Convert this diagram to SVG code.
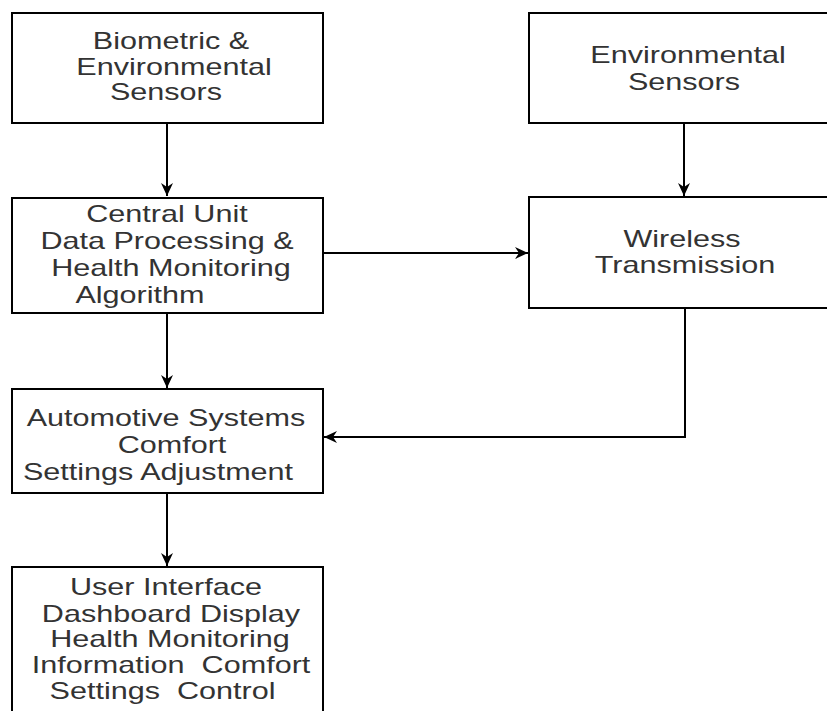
<svg xmlns="http://www.w3.org/2000/svg" width="827" height="711" viewBox="0 0 827 711">
<style>
.box{fill:#fff;stroke:#000;stroke-width:2}
.t{font-family:"Liberation Sans",Arial,sans-serif;font-size:23px;fill:#333;text-anchor:middle}
.c{fill:none;stroke:#000;stroke-width:2}
</style>
<defs>
<marker id="ah" markerUnits="userSpaceOnUse" markerWidth="14" markerHeight="14" viewBox="0 0 14 14" refX="13" refY="7" orient="auto">
<path d="M0,1 L13,7 L0,13 L4,7 Z" fill="#000"/>
</marker>
</defs>
<rect width="827" height="711" fill="#fff"/>
<g id="connectors">
<path class="c" d="M167,123 L167,196" marker-end="url(#ah)"/>
<path class="c" d="M684,123 L684,196" marker-end="url(#ah)"/>
<path class="c" d="M323,253 L528,253" marker-end="url(#ah)"/>
<path class="c" d="M167,313 L167,388" marker-end="url(#ah)"/>
<path class="c" d="M685,308 L685,437 L324,437" marker-end="url(#ah)"/>
<path class="c" d="M167,493 L167,566" marker-end="url(#ah)"/>
</g>
<g id="biometric">
<rect class="box" x="12" y="13" width="311" height="110"/>
<text class="t" transform="translate(171,49) scale(1.33 1)">Biometric &amp;</text>
<text class="t" transform="translate(174,74.5) scale(1.33 1)">Environmental</text>
<text class="t" transform="translate(166,100) scale(1.33 1)">Sensors</text>
</g>
<g id="environmental">
<rect class="box" x="529" y="13" width="320" height="110"/>
<text class="t" transform="translate(688,63) scale(1.33 1)">Environmental</text>
<text class="t" transform="translate(684,90) scale(1.33 1)">Sensors</text>
</g>
<g id="central">
<rect class="box" x="12" y="198" width="311" height="115"/>
<text class="t" transform="translate(167,222) scale(1.33 1)">Central Unit</text>
<text class="t" transform="translate(167,249) scale(1.33 1)">Data Processing &amp;</text>
<text class="t" transform="translate(171,276) scale(1.33 1)">Health Monitoring</text>
<text class="t" transform="translate(140,303) scale(1.33 1)">Algorithm</text>
</g>
<g id="wireless">
<rect class="box" x="529" y="197" width="320" height="111"/>
<text class="t" transform="translate(682,247) scale(1.33 1)">Wireless</text>
<text class="t" transform="translate(685,273) scale(1.33 1)">Transmission</text>
</g>
<g id="automotive">
<rect class="box" x="12" y="389" width="311" height="104"/>
<text class="t" transform="translate(166,426) scale(1.33 1)">Automotive Systems</text>
<text class="t" transform="translate(172,453) scale(1.33 1)">Comfort</text>
<text class="t" transform="translate(158,480) scale(1.33 1)">Settings Adjustment</text>
</g>
<g id="ui">
<rect class="box" x="12" y="567" width="311" height="160"/>
<text class="t" transform="translate(166,595) scale(1.33 1)">User Interface</text>
<text class="t" transform="translate(171,621.5) scale(1.33 1)">Dashboard Display</text>
<text class="t" transform="translate(170,647) scale(1.33 1)">Health Monitoring</text>
<text class="t" transform="translate(171,673) scale(1.33 1)" xml:space="preserve">Information  Comfort</text>
<text class="t" transform="translate(162.5,699) scale(1.33 1)" xml:space="preserve">Settings  Control</text>
</g>
</svg>
